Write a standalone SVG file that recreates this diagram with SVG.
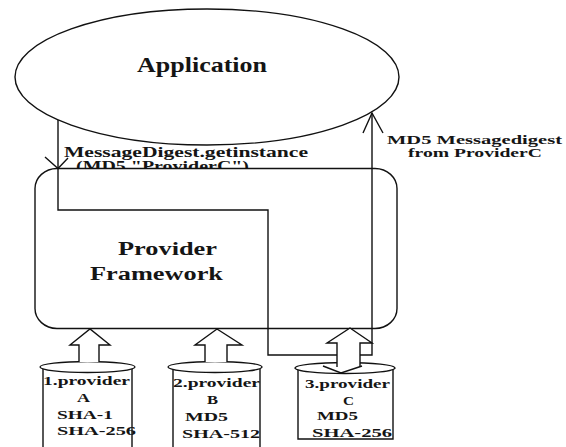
<svg xmlns="http://www.w3.org/2000/svg" width="566" height="447" viewBox="0 0 566 447">
<style>
.s{fill:none;stroke:#111;stroke-width:1.4}
.w{fill:#fff;stroke:#111;stroke-width:1.4}
.t{font-family:"Liberation Serif","Times New Roman",serif;font-weight:bold;fill:#151515}
</style>
<rect width="566" height="447" fill="#fff"/>
<g id="application">
<ellipse class="w" cx="207" cy="77" rx="192" ry="68"/>
<text class="t" x="137" y="72" font-size="22" textLength="130" lengthAdjust="spacingAndGlyphs">Application</text>
</g>
<g id="label-request">
<text class="t" x="64" y="157" font-size="14" textLength="244" lengthAdjust="spacingAndGlyphs">MessageDigest.getinstance</text>
<text class="t" x="76" y="171" font-size="14" textLength="173" lengthAdjust="spacingAndGlyphs">(MD5,"ProviderC")</text>
</g>
<g id="label-response">
<text class="t" x="387" y="144" font-size="12" textLength="175" lengthAdjust="spacingAndGlyphs">MD5 Messagedigest</text>
<text class="t" x="408" y="157" font-size="12" textLength="134" lengthAdjust="spacingAndGlyphs">from ProviderC</text>
</g>
<g id="framework">
<rect class="w" x="35" y="168.5" width="362" height="160" rx="22" ry="20"/>
<text class="t" x="118" y="255" font-size="18" textLength="99" lengthAdjust="spacingAndGlyphs">Provider</text>
<text class="t" x="90" y="280" font-size="18" textLength="133" lengthAdjust="spacingAndGlyphs">Framework</text>
</g>
<g id="providerA">
<path class="s" d="M43 369V447M132 369V447"/>
<ellipse class="w" cx="87.5" cy="367" rx="47.5" ry="5.5"/>
<text class="t" x="43" y="385" font-size="13" textLength="87" lengthAdjust="spacingAndGlyphs">1.provider</text>
<text class="t" x="77" y="402" font-size="13" textLength="13" lengthAdjust="spacingAndGlyphs">A</text>
<text class="t" x="57" y="419" font-size="13" textLength="56" lengthAdjust="spacingAndGlyphs">SHA-1</text>
<text class="t" x="57" y="435" font-size="13" textLength="79" lengthAdjust="spacingAndGlyphs">SHA-256</text>
</g>
<g id="providerB">
<path class="s" d="M173 369V447M260 369V447"/>
<ellipse class="w" cx="215" cy="367" rx="47" ry="5.5"/>
<text class="t" x="173" y="387" font-size="13" textLength="87" lengthAdjust="spacingAndGlyphs">2.provider</text>
<text class="t" x="207" y="404" font-size="13" textLength="11" lengthAdjust="spacingAndGlyphs">B</text>
<text class="t" x="185" y="421" font-size="13" textLength="43" lengthAdjust="spacingAndGlyphs">MD5</text>
<text class="t" x="182" y="438" font-size="13" textLength="78" lengthAdjust="spacingAndGlyphs">SHA-512</text>
</g>
<g id="providerC">
<path class="s" d="M298 370V439H393V370"/>
<ellipse class="w" cx="345" cy="368" rx="50" ry="5.5"/>
<text class="t" x="305" y="388" font-size="13" textLength="85" lengthAdjust="spacingAndGlyphs">3.provider</text>
<text class="t" x="343" y="405" font-size="13" textLength="11" lengthAdjust="spacingAndGlyphs">C</text>
<text class="t" x="317" y="420" font-size="13" textLength="41" lengthAdjust="spacingAndGlyphs">MD5</text>
<text class="t" x="312" y="437" font-size="13" textLength="80" lengthAdjust="spacingAndGlyphs">SHA-256</text>
</g>
<g id="connectors">
<path class="s" d="M58 120V210H268V355H372V113"/>
<path class="s" d="M45 157L58 168.5L68 158"/>
<path class="s" d="M363 133L372 113L383 133"/>
<path class="w" d="M79 362V345H70L90 329L110 345H99V362"/>
<path class="w" d="M205 362V345H195L217 329L242 345H227V362"/>
<path class="w" d="M337 367V343H327L350 328L372 343H360V367"/>
<path class="s" d="M323 366L341 373L362 366"/>
</g>
</svg>
